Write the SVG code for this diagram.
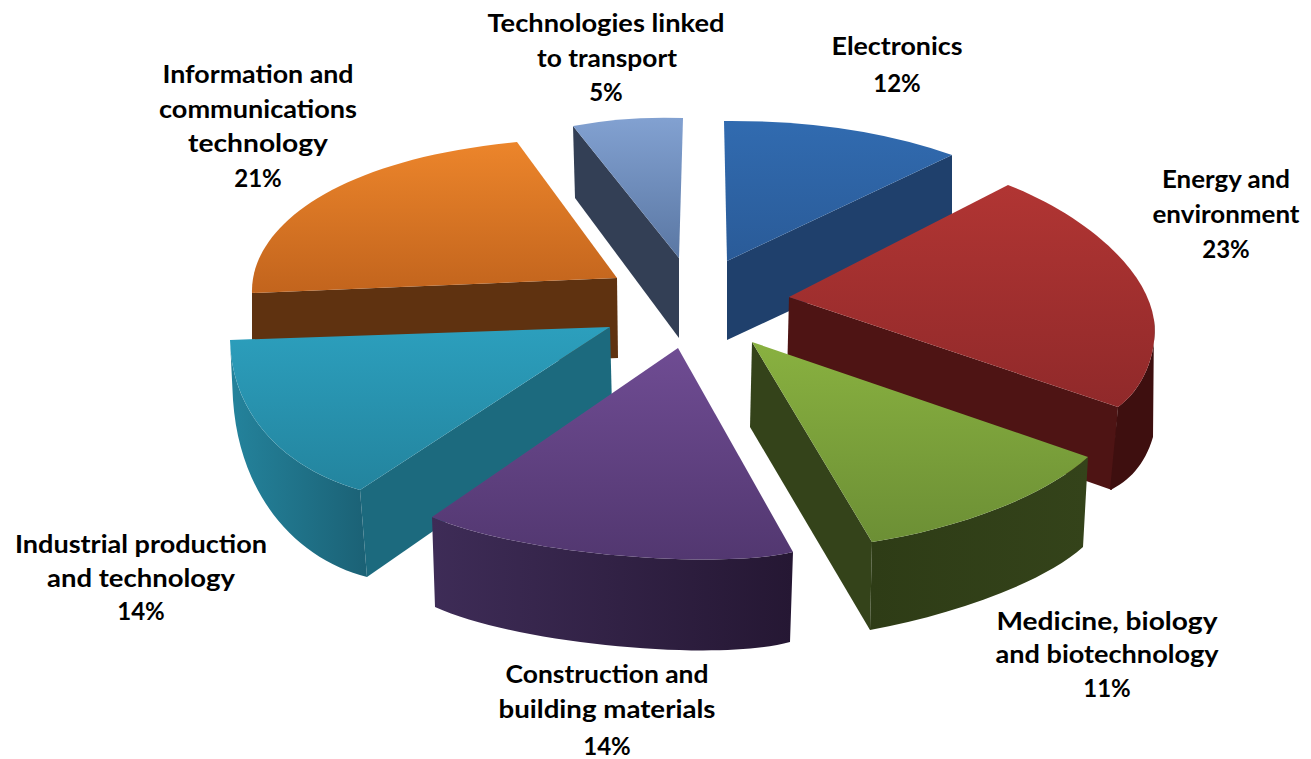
<svg xmlns="http://www.w3.org/2000/svg" width="1311" height="759" viewBox="0 0 1311 759">
<style>
text{font-family:Lato,"Liberation Sans",sans-serif;font-weight:bold;font-size:24px;fill:#000;text-anchor:middle}
</style>
<defs>
<linearGradient id="gT" x1="0" y1="0" x2="0" y2="1"><stop offset="0" stop-color="#82a1d1"/><stop offset="1" stop-color="#5a77a3"/></linearGradient>
<linearGradient id="gE" x1="0" y1="0" x2="0" y2="1"><stop offset="0" stop-color="#316bb0"/><stop offset="1" stop-color="#2a5b98"/></linearGradient>
<linearGradient id="gO" x1="0" y1="0" x2="0" y2="1"><stop offset="0" stop-color="#ec852b"/><stop offset="1" stop-color="#c2641d"/></linearGradient>
<linearGradient id="gR" x1="0" y1="0" x2="0" y2="1"><stop offset="0" stop-color="#b13533"/><stop offset="1" stop-color="#90292a"/></linearGradient>
<linearGradient id="gC" x1="0" y1="0" x2="0" y2="1"><stop offset="0" stop-color="#2c9fbd"/><stop offset="1" stop-color="#23849e"/></linearGradient>
<linearGradient id="gCs" x1="0" y1="0" x2="1" y2="0"><stop offset="0" stop-color="#24839c"/><stop offset="1" stop-color="#1b6175"/></linearGradient>
<linearGradient id="gG" x1="0" y1="0" x2="0" y2="1"><stop offset="0" stop-color="#89b140"/><stop offset="1" stop-color="#6c8f35"/></linearGradient>
<linearGradient id="gGs" x1="0" y1="0" x2="1" y2="0"><stop offset="0" stop-color="#2e3c16"/><stop offset="1" stop-color="#34431a"/></linearGradient>
<linearGradient id="gP" x1="0" y1="0" x2="0" y2="1"><stop offset="0" stop-color="#6f4c93"/><stop offset="1" stop-color="#523770"/></linearGradient>
<linearGradient id="gPs" x1="0" y1="0" x2="1" y2="0"><stop offset="0" stop-color="#3e2c57"/><stop offset="1" stop-color="#251733"/></linearGradient>
</defs>
<rect width="1311" height="759" fill="#fff"/>

<g id="slice-transport">
<path d="M573,126 L679,258 L679,338 L575,198 Z" fill="#333f55"/>
<path d="M573,126 Q625,116 683,118 L679,258 Z" fill="url(#gT)"/>
</g>

<g id="slice-electronics">
<path d="M727,261 L952,155 L952,235 L727,340 Z" fill="#1f406c"/>
<path d="M724,121 Q852,120 952,155 L727,261 Z" fill="url(#gE)"/>
</g>

<g id="slice-ict">
<path d="M252,293 L617,278 L618,358 L252,373 Z" fill="#5f3210"/>
<path d="M252,293 C250,230 330,160 517,142 L617,278 Z" fill="url(#gO)"/>
</g>

<g id="slice-energy">
<path d="M789,297 L1118,407 L1112,490 L787,377 Z" fill="#4e1414"/>
<path d="M1118,407 C1142,390 1158,355 1154,320 L1153,437 C1145,465 1128,482 1110,490 Z" fill="#3e0f0f"/>
<path d="M789,297 L1008,185 C1078,212 1146,265 1154,320 C1158,355 1142,390 1118,407 Z" fill="url(#gR)"/>
</g>

<g id="slice-industrial">
<path d="M360,490 L610,327 L612,407 L367,577 Z" fill="#1c6a7e"/>
<path d="M230,340 C232,420 290,470 360,490 L367,577 C300,560 240,500 233,400 Z" fill="url(#gCs)"/>
<path d="M230,340 L610,327 L360,490 C290,470 232,420 230,340 Z" fill="url(#gC)"/>
</g>

<g id="slice-medicine">
<path d="M752,342 L872,542 L870,630 L750,427 Z" fill="#34431a"/>
<path d="M872,542 C950,530 1040,500 1088,457 L1083,547 C1040,585 950,615 870,630 Z" fill="url(#gGs)"/>
<path d="M752,342 L1088,457 C1040,500 950,530 872,542 Z" fill="url(#gG)"/>
</g>

<g id="slice-construction">
<path d="M432,517 C520,555 720,570 793,552 L790,642 C720,662 520,645 435,607 Z" fill="url(#gPs)"/>
<path d="M678,348 L793,552 C720,570 520,555 432,517 Z" fill="url(#gP)"/>
</g>

<g id="labels">
<text x="606" y="32" textLength="237" lengthAdjust="spacingAndGlyphs">Technologies linked</text>
<text x="607" y="67" textLength="140" lengthAdjust="spacingAndGlyphs">to transport</text>
<text x="606" y="101">5%</text>
<text x="897" y="55" textLength="131" lengthAdjust="spacingAndGlyphs">Electronics</text>
<text x="897" y="92">12%</text>
<text x="1226" y="188" textLength="128" lengthAdjust="spacingAndGlyphs">Energy and</text>
<text x="1226" y="223" textLength="147" lengthAdjust="spacingAndGlyphs">environment</text>
<text x="1226" y="258">23%</text>
<text x="258" y="83" textLength="191" lengthAdjust="spacingAndGlyphs">Information and</text>
<text x="258" y="118" textLength="198" lengthAdjust="spacingAndGlyphs">communications</text>
<text x="258" y="152" textLength="140" lengthAdjust="spacingAndGlyphs">technology</text>
<text x="258" y="187">21%</text>
<text x="141" y="553" textLength="252" lengthAdjust="spacingAndGlyphs">Industrial production</text>
<text x="141" y="587" textLength="188" lengthAdjust="spacingAndGlyphs">and technology</text>
<text x="141" y="620">14%</text>
<text x="607" y="683" textLength="203" lengthAdjust="spacingAndGlyphs">Construction and</text>
<text x="607" y="718" textLength="217" lengthAdjust="spacingAndGlyphs">building materials</text>
<text x="607" y="755">14%</text>
<text x="1107" y="630" textLength="221" lengthAdjust="spacingAndGlyphs">Medicine, biology</text>
<text x="1107" y="663" textLength="223" lengthAdjust="spacingAndGlyphs">and biotechnology</text>
<text x="1107" y="697">11%</text>
</g>
</svg>
